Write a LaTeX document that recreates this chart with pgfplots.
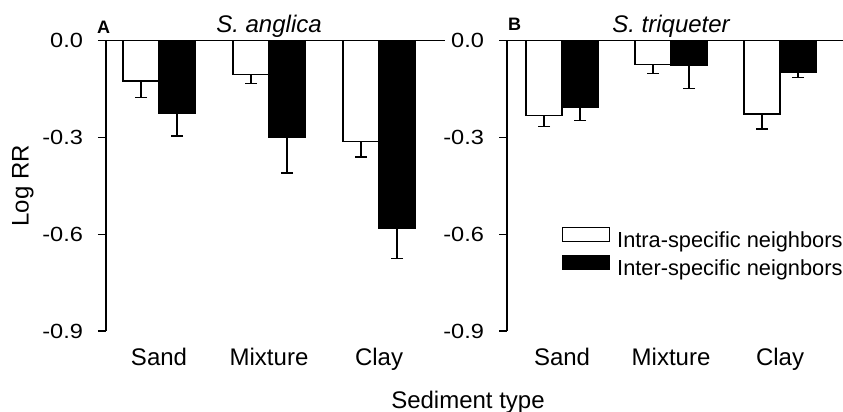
\documentclass[border=0pt]{standalone}
\usepackage{fontspec}
\setmainfont{Liberation Sans}
\newfontfamily\tickfont[FakeStretch=1.15]{Liberation Sans}
\usepackage{pgfplots}
\pgfplotsset{compat=1.18}
\newcommand\fsA{\fontsize{24bp}{28bp}\selectfont}
\newcommand\fsT{\tickfont\fontsize{20.5bp}{24bp}\selectfont}
\newcommand\fsL{\fontsize{21.8bp}{25bp}\selectfont}
\pgfplotsset{
  panel/.style={
    anchor=south west, scale only axis, width=339bp, height=290.3bp,
    ymin=-0.9, ymax=0,
    ytick={-0.9,-0.6,-0.3,0}, yticklabels={{\fsT -0.9},{\fsT -0.6},{\fsT -0.3},{\fsT 0.0}},
    xtick={0,1,2}, xticklabels={{\fsA Sand},{\fsA Mixture},{\fsA Clay}},
    separate axis lines, axis x line*=bottom, axis y line*=left,
    x axis line style={draw=none},
    y axis line style={line width=1.4bp, black},
    tick align=outside, major tick length=8bp,
    x tick style={draw=none},
    y tick style={line width=1.3bp, black},
    yticklabel style={xshift=-11.5bp},
    xticklabel style={yshift=-6bp},
    ybar, bar width=36bp, clip=false,
    error bars/error bar style={line width=1.3bp, black},
    error bars/error mark options={rotate=90, mark size=6bp, line width=1.3bp, black},
  },
  intra/.style={draw=black, fill=white, line width=1.2bp, bar shift=-18bp,
    error bars/.cd, y dir=minus, y explicit},
  inter/.style={draw=black, fill=black, line width=1.2bp, bar shift=18bp,
    error bars/.cd, y dir=minus, y explicit},
}
\begin{document}
\begin{tikzpicture}
\useasboundingbox (0,0) rectangle (843bp,412bp);
% Panel A
\begin{axis}[panel, at={(106bp,81bp)}, xmin=-0.482, xmax=2.6,
  ylabel={\fsA Log RR},
  ylabel style={at={(axis description cs:-0.245,0.5)}, anchor=center}]
\addplot[intra] coordinates {(0,-0.125) +- (0,0.051) (1,-0.105) +- (0,0.028) (2,-0.313) +- (0,0.048)};
\addplot[inter] coordinates {(0,-0.225) +- (0,0.070) (1,-0.300) +- (0,0.110) (2,-0.582) +- (0,0.094)};
\draw[line width=1.5bp] (rel axis cs:0,1) -- (rel axis cs:1,1);
\node[anchor=base, yshift=8.5bp] at (axis cs:1,0) {\itshape\fsA S. anglica};
\end{axis}
% Panel B
\begin{axis}[panel, at={(507bp,81bp)}, xmin=-0.505, xmax=2.605,
  legend cell align=left,
  legend image code/.code={\draw[#1] (0bp,-1bp) rectangle (47bp,13bp);},
  legend style={at={(axis description cs:0.1622,0.3593)}, anchor=north west,
    draw=none, fill=none, inner sep=0pt, outer sep=0pt, font=\fsL,
    row sep=6.3bp, column sep=7bp, nodes={inner sep=0pt}}]
\addplot[intra] coordinates {(0,-0.232) +- (0,0.034) (1,-0.075) +- (0,0.027) (2,-0.227) +- (0,0.047)};
\addplot[inter] coordinates {(0,-0.206) +- (0,0.041) (1,-0.077) +- (0,0.072) (2,-0.097) +- (0,0.018)};
\addlegendentry{\fsL Intra-specific neighbors}
\addlegendentry{\fsL Inter-specific neignbors}
\draw[line width=1.5bp] (rel axis cs:0,1) -- (rel axis cs:1,1);
\node[anchor=base, yshift=8.5bp] at (axis cs:1,0) {\itshape\fsA S. triqueter};
\end{axis}
\node[anchor=base west, inner sep=0pt] at (97bp,378bp) {\bfseries\fontsize{18bp}{20bp}\selectfont A};
\node[anchor=base west, inner sep=0pt] at (508bp,381bp) {\bfseries\fontsize{18bp}{20bp}\selectfont B};
\node[anchor=base, inner sep=0pt] at (468bp,4bp) {\fsA Sediment type};
\end{tikzpicture}
\end{document}
